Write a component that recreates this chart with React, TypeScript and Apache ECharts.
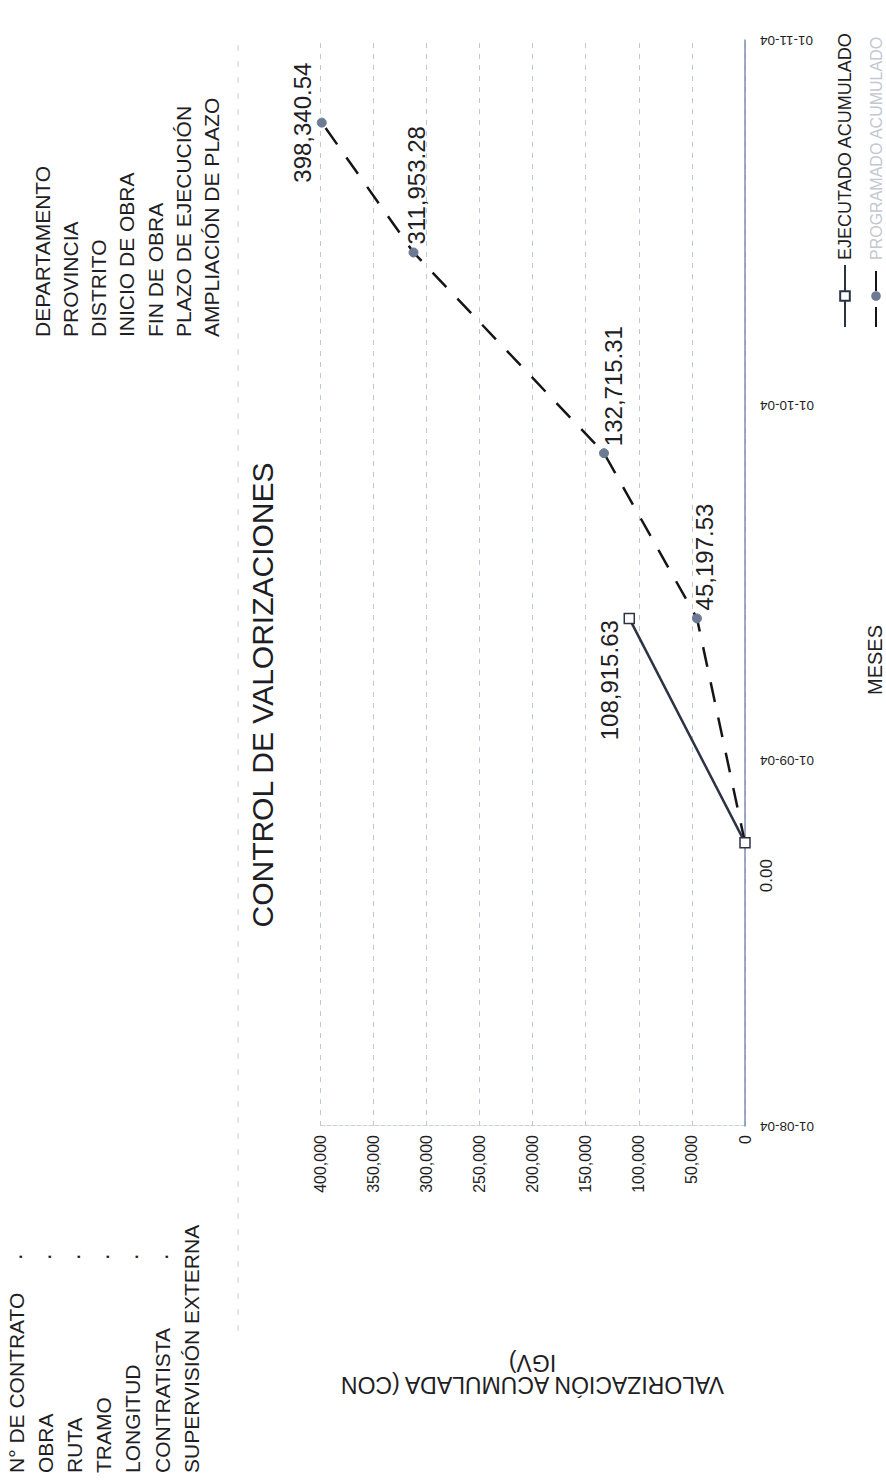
import React, { useEffect, useRef } from "react";
import * as echarts from "echarts";

// Landscape canvas (the page shows it rotated 90° counter-clockwise)
const W = 1481;
const H = 886;

const axisStart = "2004-08-01";
const axisEnd = "2004-11-01";
const tickDates = ["2004-08-01", "2004-09-01", "2004-10-01", "2004-11-01"];
const progDates = ["2004-08-25", "2004-09-13", "2004-09-27", "2004-10-14", "2004-10-25"];
const progValues = [0, 45197.53, 132715.31, 311953.28, 398340.54];
const ejecDates = ["2004-08-25", "2004-09-13"];
const ejecValues = [0, 108915.63];
const valueMin = 0;
const valueMax = 400000;
const valueStep = 50000;
const seriesNames = ["EJECUTADO ACUMULADO", "PROGRAMADO ACUMULADO"];
const headerLeft = ["N° DE CONTRATO", "OBRA", "RUTA", "TRAMO", "LONGITUD", "CONTRATISTA", "SUPERVISIÓN EXTERNA"];
const headerRight = ["DEPARTAMENTO", "PROVINCIA", "DISTRITO", "INICIO DE OBRA", "FIN DE OBRA", "PLAZO DE EJECUCIÓN", "AMPLIACIÓN DE PLAZO"];
const titleText = "CONTROL DE VALORIZACIONES";
const xName = "MESES";
const yName = "VALORIZACIÓN ACUMULADA (CON\nIGV)";

const FONT = "Liberation Sans, Arial, sans-serif";
const DAY = 86400000;
const INK = "#1e1e24";

function ts(s: string): number {
  const [y, m, d] = s.split("-").map(Number);
  return Date.UTC(y, m - 1, d);
}
function dayOf(s: string): number {
  return Math.round((ts(s) - ts(axisStart)) / DAY);
}
function fmtDay(n: number): string {
  const d = new Date(ts(axisStart) + n * DAY);
  const p = (k: number) => String(k).padStart(2, "0");
  return `${p(d.getUTCDate())}-${p(d.getUTCMonth() + 1)}-${p(d.getUTCFullYear() % 100)}`;
}
function fmtNum(v: number): string {
  return v.toLocaleString("en-US", { minimumFractionDigits: 2, maximumFractionDigits: 2 });
}

export default function App() {
  const ref = useRef<HTMLDivElement>(null);
  useEffect(() => {
    if (!ref.current) return;
    const chart = echarts.init(ref.current, undefined, { renderer: "svg" });

    const tickDays = new Set(tickDates.map(dayOf));

    const progLabels: any[] = [
      { show: false },
      { show: true, position: "right", distance: 3, offset: [0, 8] },
      { show: true, position: "right", distance: 2, offset: [0, 10] },
      { show: true, position: "right", distance: 3, offset: [0, 3] },
      { show: true, position: "top", distance: 2, offset: [0, 0] },
    ];
    const progData = progDates.map((d, i) => ({
      value: [dayOf(d), progValues[i]],
      label: progLabels[i],
    }));
    const ejecLabels: any[] = [
      { show: true, position: "bottom", distance: 5, offset: [-33, 2], fontSize: 17 },
      { show: true, position: "left", distance: 5, offset: [9, -20] },
    ];
    const ejecData = ejecDates.map((d, i) => ({
      value: [dayOf(d), ejecValues[i]],
      label: ejecLabels[i],
    }));

    const graphics: any[] = [];
    headerLeft.forEach((t, i) => {
      graphics.push({
        type: "text",
        x: 8,
        y: 16 + i * 29.2,
        style: { text: t, font: `21px ${FONT}`, fill: INK, textVerticalAlign: "middle", textAlign: "left" },
      });
      if (i < headerLeft.length - 1) {
        graphics.push({
          type: "text",
          x: 222,
          y: 16 + i * 29.2,
          style: { text: ".", font: `bold 16px ${FONT}`, fill: INK, textVerticalAlign: "middle", textAlign: "left" },
        });
      }
    });
    headerRight.forEach((t, i) => {
      graphics.push({
        type: "text",
        x: 1144,
        y: 42 + i * 28.3,
        style: { text: t, font: `21px ${FONT}`, fill: INK, textVerticalAlign: "middle", textAlign: "left" },
      });
    });
    graphics.push({
      type: "text",
      x: 786,
      y: 262,
      style: { text: titleText, font: `30px ${FONT}`, fill: INK, textAlign: "center", textVerticalAlign: "middle" },
    });
    graphics.push({
      type: "line",
      shape: { x1: 150, y1: 238, x2: 1440, y2: 238 },
      style: { stroke: "#c8ccd6", lineWidth: 1, lineDash: [6, 10] },
    });

    chart.setOption({
      animation: false,
      backgroundColor: "#ffffff",
      textStyle: { fontFamily: FONT },
      grid: { left: 355, right: W - 1441, top: 320, bottom: H - 748 },
      legend: [
        {
          orient: "vertical",
          left: 1148,
          top: 831,
          itemWidth: 62,
          itemHeight: 12,
          itemGap: 4,
          data: [{ name: seriesNames[0], textStyle: { color: INK } }],
          textStyle: { fontSize: 18, fontFamily: FONT },
        },
        {
          orient: "vertical",
          left: 1148,
          top: 863,
          itemWidth: 62,
          itemHeight: 12,
          itemGap: 4,
          data: [{ name: seriesNames[1], textStyle: { color: "#c3c7cf" } }],
          textStyle: { fontSize: 16, fontFamily: FONT },
        },
      ],
      xAxis: {
        type: "value",
        min: 0,
        max: dayOf(axisEnd),
        interval: 1,
        name: xName,
        nameLocation: "middle",
        nameGap: 120,
        nameTextStyle: { fontSize: 20, color: INK, fontFamily: FONT, padding: [0, 154, 0, 0] },
        axisLine: { show: true, onZero: false, lineStyle: { color: "#7f8fb3", width: 1.5 } },
        axisTick: { show: false },
        axisLabel: {
          show: true,
          rotate: 90,
          fontSize: 13.5,
          color: INK,
          margin: 15,
          hideOverlap: false,
          showMinLabel: true,
          showMaxLabel: true,
          formatter: (v: number) => (tickDays.has(v) ? fmtDay(v) : ""),
        },
        splitLine: { show: false },
      },
      yAxis: {
        type: "value",
        min: valueMin,
        max: valueMax,
        interval: valueStep,
        name: yName,
        nameLocation: "middle",
        nameRotate: 90,
        nameGap: 226,
        nameTextStyle: { fontSize: 23, color: INK, fontFamily: FONT, lineHeight: 22, align: "center" },
        axisLine: { show: true, lineStyle: { color: "#c9cedb", width: 1, type: "dashed" } },
        axisTick: { show: false },
        axisLabel: {
          fontSize: 16,
          color: INK,
          margin: 9,
          formatter: (v: number) => v.toLocaleString("en-US"),
        },
        splitLine: { show: true, lineStyle: { color: "#bfc6da", width: 1, type: [5, 6] } },
      },
      series: [
        {
          name: seriesNames[0],
          type: "line",
          data: ejecData,
          symbol: "rect",
          symbolSize: 10,
          itemStyle: { color: "#ffffff", borderColor: "#2b3344", borderWidth: 1.5 },
          lineStyle: { color: "#2b3344", width: 2.5, type: "solid" },
          label: { fontSize: 24, color: INK, formatter: (p: any) => fmtNum(p.value[1]) },
          z: 3,
        },
        {
          name: seriesNames[1],
          type: "line",
          data: progData,
          symbol: "circle",
          symbolSize: 9,
          itemStyle: { color: "#6c7a93", borderColor: "#6c7a93" },
          lineStyle: { color: "#151515", width: 2.5, type: [20, 16] },
          label: { fontSize: 24, color: INK, formatter: (p: any) => fmtNum(p.value[1]) },
          z: 2,
        },
      ],
      graphic: graphics,
    });
    return () => chart.dispose();
  }, []);

  return (
    <div style={{ position: "fixed", left: 0, top: 0, width: 886, height: 1481, overflow: "hidden", background: "#fff" }}>
      <div
        ref={ref}
        style={{
          position: "absolute",
          left: 0,
          top: 1481,
          width: W,
          height: H,
          transform: "rotate(-90deg)",
          transformOrigin: "0 0",
        }}
      />
    </div>
  );
}
